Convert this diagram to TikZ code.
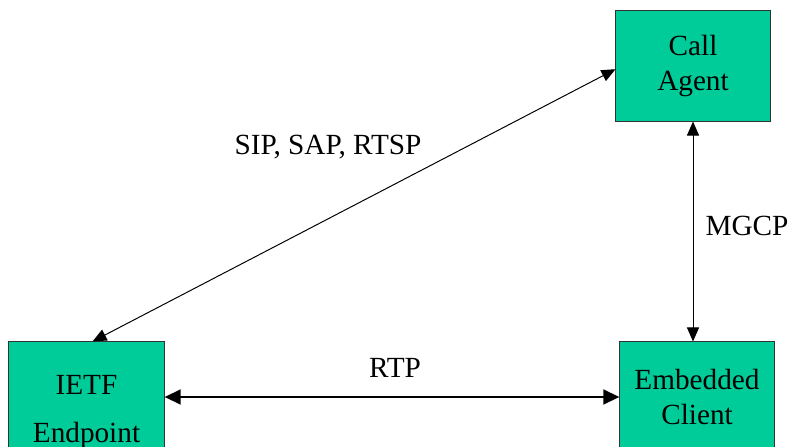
\documentclass[tikz,border=0pt]{standalone}
\usepackage{fontspec}
\setmainfont{Liberation Serif}
\usepackage{xcolor}
\usetikzlibrary{arrows.meta}
\definecolor{boxgreen}{RGB}{0,204,153}
\definecolor{boxline}{RGB}{51,51,51}

\begin{document}
\begin{tikzpicture}[x=0.025cm,y=-0.025cm,
  font=\fontsize{20.8}{25.5}\selectfont,
  unit/.style={draw=boxline, line width=0.7pt, fill=boxgreen, align=center,
    inner sep=0pt, minimum width=3.85cm, minimum height=2.75cm},
  sig/.style={line width=0.7pt, {Triangle[length=0.35cm,width=0.3cm]}-{Triangle[length=0.35cm,width=0.3cm]}},
  media/.style={line width=2.1pt, {Triangle[length=0.4cm,width=0.36cm]}-{Triangle[length=0.4cm,width=0.36cm]}}]
% Frame
\useasboundingbox (0,0) rectangle (790,447);
\clip (0,0) rectangle (790,447);

% Boxes
\node[unit] (ca) at (693,66) {Call\\Agent};
\node[unit] (ec) at (697,397) {Embedded\\Client};
\node[unit, minimum width=3.875cm, minimum height=3.5cm] (ie) at (86.5,412) {IETF\\[9pt]Endpoint};

% Signalling
\draw[sig] ([xshift=0.15cm]ie.north) -- ([yshift=-0.08cm]ca.west);
\node (sip) at (328,147) {SIP, SAP, RTSP};

\draw[sig] (ca.south) -- (ca.south |- ec.north);
\node (mgcp) at (747,226) {MGCP};

% Media
\draw[media] (ec.west -| ie.east) -- (ec.west);
\node (rtp) at (395,368) {RTP};

\end{tikzpicture}
\end{document}
